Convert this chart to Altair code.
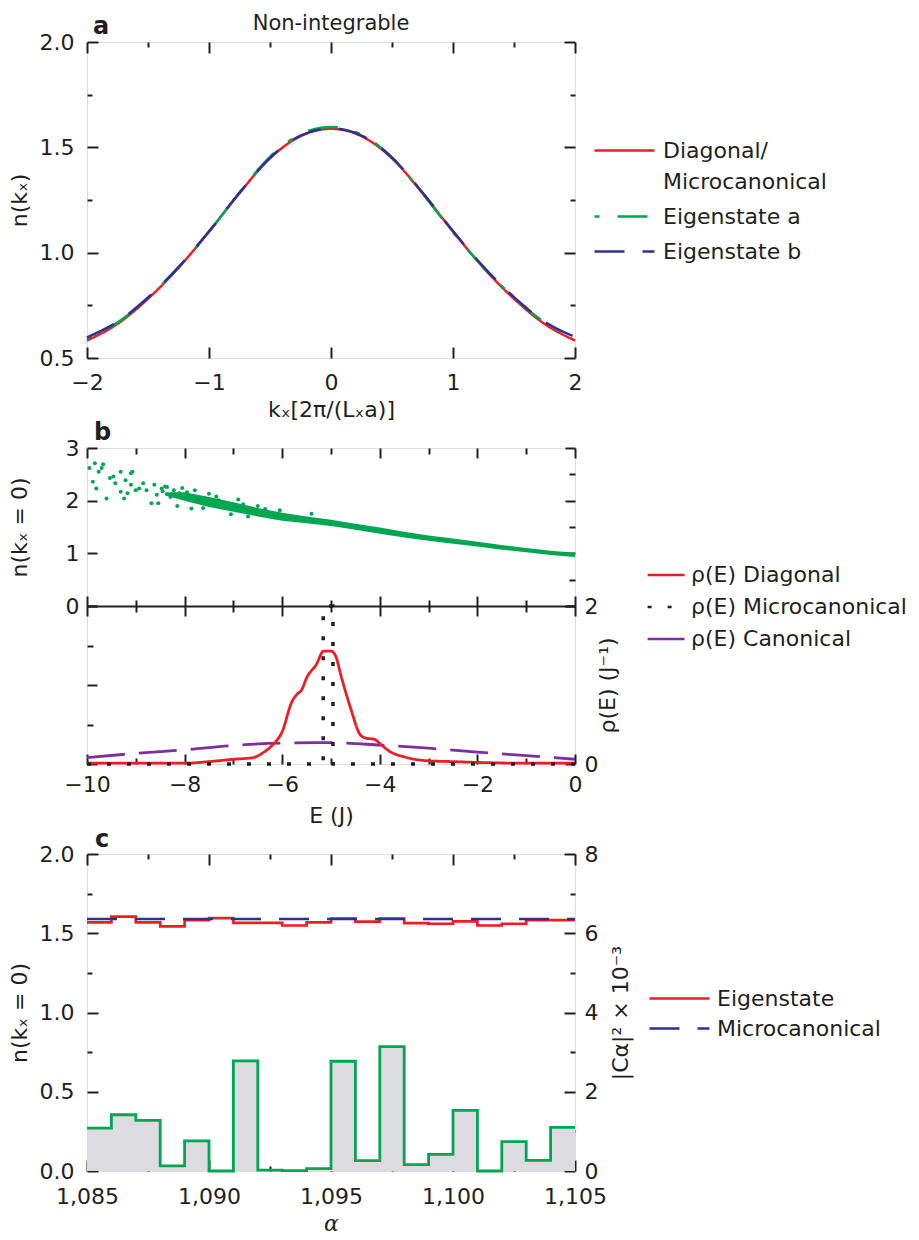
import altair as alt
import pandas as pd

FONT = "DejaVu Sans"
INK = "#231f20"
RED = "#ee1d23"
GREEN = "#00a651"
BLUE = "#2e3192"
PURPLE = "#7d2ea0"
GREY = "#dbdbe0"
FS = 22
FT = 21

W = 488
HA = 316
HB = 316
HALF = 158
HC = 317

# ---------------- panel a data ----------------
k_x = [-2.0, -1.75, -1.5, -1.25, -1.0, -0.75, -0.5, -0.25, 0.0,
       0.25, 0.5, 0.75, 1.0, 1.25, 1.5, 1.75, 2.0]
n_diagonal = [0.583, 0.662, 0.781, 0.928, 1.100, 1.283, 1.448, 1.553, 1.588,
              1.553, 1.448, 1.283, 1.100, 0.928, 0.781, 0.662, 0.583]
n_eigen_a = [0.592, 0.668, 0.785, 0.930, 1.098, 1.286, 1.455, 1.562, 1.597,
             1.560, 1.452, 1.281, 1.097, 0.930, 0.786, 0.670, 0.593]
n_eigen_b = [0.598, 0.672, 0.787, 0.931, 1.101, 1.284, 1.450, 1.556, 1.590,
             1.556, 1.451, 1.285, 1.103, 0.933, 0.789, 0.673, 0.600]
series_a = ["Diagonal/|Microcanonical", "Eigenstate a", "Eigenstate b"]

# ---------------- panel b data ----------------
band_E = [-8.4, -8.0, -7.5, -7.0, -6.5, -6.0, -5.5, -5.0, -4.5, -4.0, -3.5,
          -3.0, -2.5, -2.0, -1.5, -1.0, -0.5, 0.0]
band_hi = [2.16, 2.16, 2.07, 1.97, 1.86, 1.77, 1.70, 1.64, 1.56, 1.49, 1.41,
           1.34, 1.28, 1.22, 1.16, 1.10, 1.05, 1.01]
band_lo = [2.10, 2.00, 1.88, 1.79, 1.70, 1.62, 1.57, 1.52, 1.45, 1.37, 1.30,
           1.24, 1.18, 1.13, 1.07, 1.02, 0.97, 0.93]
scatter_E = [-9.95, -9.84, -9.88, -9.81, -9.76, -9.67, -9.70, -9.60, -9.53, -9.46,
             -9.42, -9.31, -9.31, -9.24, -9.21, -9.17, -9.10, -9.07, -9.10, -9.00,
             -8.93, -8.85, -8.78, -8.68, -8.57, -8.54, -8.47, -8.40, -8.29, -8.22,
             -8.11, -8.01, -7.86, -7.79, -7.72, -7.58, -7.44, -7.30, -7.16, -6.90,
             -6.70, -6.50, -6.20, -8.62, -8.36, -8.15, -7.95, -7.62, -7.35, -7.05,
             -6.80, -6.35, -6.05, -5.70, -5.40, -8.45, -8.25, -8.05, -7.85, -7.50,
             -7.20, -6.95, -6.60]
scatter_n = [2.62, 2.71, 2.36, 2.23, 2.55, 2.69, 2.62, 2.04, 2.43, 2.46,
             2.33, 2.55, 2.17, 2.04, 2.39, 2.14, 2.52, 2.55, 2.30, 2.20,
             2.23, 2.33, 2.20, 1.95, 2.11, 1.95, 2.23, 2.27, 2.07, 2.20,
             2.14, 2.07, 1.85, 2.20, 2.01, 2.04, 1.95, 2.01, 1.88, 2.02,
             1.70, 1.90, 1.76, 2.30, 2.26, 1.90, 2.16, 1.86, 2.08, 1.74,
             1.93, 1.84, 1.82, 1.64, 1.75, 2.18, 2.12, 2.24, 2.02, 2.13,
             1.96, 1.91, 1.80]
rho_diag_E = [-10, -9, -8, -7.5, -7, -6.6, -6.4, -6.2, -6.0, -5.8, -5.7, -5.6,
              -5.5, -5.3, -5.15, -5.0, -4.9, -4.8, -4.6, -4.4, -4.3, -4.1, -4.0,
              -3.8, -3.5, -3.0, -2.5, -2.0, -1.0, 0]
rho_diag = [0.01, 0.01, 0.01, 0.03, 0.06, 0.08, 0.14, 0.24, 0.41, 0.79, 0.88, 0.94,
            1.09, 1.26, 1.43, 1.43, 1.36, 1.13, 0.71, 0.37, 0.33, 0.31, 0.26,
            0.16, 0.09, 0.04, 0.03, 0.02, 0.01, 0.01]
rho_micro_E = [-10, -5.16, -5.16, -4.96, -4.96, 0]
rho_micro = [0, 0, 2, 2, 0, 0]
rho_canon_E = [-10, -9, -8, -7, -6, -5, -4, -3, -2, -1, 0]
rho_canon = [0.08, 0.135, 0.18, 0.235, 0.265, 0.27, 0.24, 0.20, 0.15, 0.105, 0.06]
series_b = ["ρ(E) Diagonal", "ρ(E) Microcanonical", "ρ(E) Canonical"]

# ---------------- panel c data ----------------
alpha_edges = [1085, 1086, 1087, 1088, 1089, 1090, 1091, 1092, 1093, 1094, 1095,
               1096, 1097, 1098, 1099, 1100, 1101, 1102, 1103, 1104, 1105]
c_weight = [1.08, 1.42, 1.28, 0.13, 0.76, 0.0, 2.78, 0.02, 0.01, 0.06,
            2.77, 0.26, 3.14, 0.16, 0.42, 1.53, 0.0, 0.74, 0.27, 1.10]
n_eigenstate = [1.568, 1.605, 1.568, 1.543, 1.583, 1.596, 1.566, 1.566, 1.549, 1.568,
                1.592, 1.573, 1.592, 1.564, 1.560, 1.575, 1.549, 1.560, 1.583, 1.583]
n_microcan = [1.590, 1.590, 1.590, 1.590, 1.590, 1.590, 1.590, 1.590, 1.590, 1.590,
              1.590, 1.590, 1.590, 1.590, 1.590, 1.590, 1.590, 1.590, 1.590, 1.590]
series_c = ["Eigenstate", "Microcanonical"]


def tick_axis(orient, values, test, major=11, minor=5, labels=False, fmt=None,
              title=None, pad=0, offset=0, **kw):
    args = dict(orient=orient, values=values,
                tickSize={"expr": f"({test}) ? {-major} : {-minor}"},
                ticks=True, domain=False, grid=False, labels=labels,
                tickColor=INK, tickWidth=2, offset=offset, title=title)
    if labels:
        args.update(labelExpr=f"({test}) ? datum.label : ''", labelPadding=pad,
                    labelFlush=False, labelOverlap=False, labelFont=FONT,
                    labelFontSize=FS, labelColor=INK)
        if fmt:
            args["format"] = fmt
    if title:
        args.update(titleFont=FONT, titleFontSize=FS, titleFontWeight="normal",
                    titleColor=INK)
    args.update(kw)
    return alt.Axis(**args)


def letter(ch, x, y):
    return alt.Chart(pd.DataFrame({"t": [ch]})).mark_text(
        font=FONT, fontSize=24, fontWeight="bold", align="left",
        baseline="alphabetic", color=INK).encode(
        text="t:N", x=alt.value(x), y=alt.value(y))


def legend(x, y, size, offset, rowpad):
    return alt.Legend(
        title=None, orient="none", legendX=x, legendY=y, direction="vertical",
        symbolType="M-1,0H4", symbolSize=size, symbolStrokeWidth=2.5,
        labelFont=FONT, labelFontSize=FS, labelColor=INK, labelLimit=400,
        labelOffset=offset, rowPadding=rowpad,
        labelExpr="indexof(datum.label, '|') >= 0 ? split(datum.label, '|') : datum.label")


# ================= panel a =================
df_a = pd.DataFrame({
    "k": k_x * 3,
    "n": n_diagonal + n_eigen_a + n_eigen_b,
    "s": [series_a[0]] * len(k_x) + [series_a[1]] * len(k_x) + [series_a[2]] * len(k_x),
})
xa = alt.Scale(domain=[-2, 2], nice=False)
ya = alt.Scale(domain=[0.5, 2.0], nice=False, zero=False)
leg_a = legend(506, 95, 576, 43, 10)
col_a = alt.Color("s:N", scale=alt.Scale(domain=series_a, range=[RED, GREEN, BLUE]), legend=leg_a)
dash_a = alt.StrokeDash("s:N", scale=alt.Scale(domain=series_a, range=[[1, 0], [5, 18, 30, 18], [30, 18]]), legend=leg_a)
xa_vals = [-2, -1.5, -1, -0.5, 0, 0.5, 1, 1.5, 2]
ya_vals = [0.5, 0.75, 1.0, 1.25, 1.5, 1.75, 2.0]
xa_test = "datum.value % 1 === 0"
ya_test = "(datum.value * 2) % 1 === 0"

base_a = alt.Chart(df_a).mark_line(strokeWidth=2.5, interpolate="monotone")
a_red = base_a.transform_filter(alt.datum.s == series_a[0]).encode(
    x=alt.X("k:Q", scale=xa, axis=tick_axis("bottom", xa_vals, xa_test, labels=True, fmt="d", pad=11 + 31,
                                             labelBaseline="alphabetic",
                                             title="kₓ[2π/(Lₓa)]", titleY=58, titleBaseline="alphabetic")),
    y=alt.Y("n:Q", scale=ya, axis=tick_axis("left", ya_vals, ya_test, labels=True, fmt=".1f", pad=11 + 13,
                                             title="n(kₓ)", titleX=-68, titleBaseline="middle")),
    color=col_a, strokeDash=dash_a)
a_green = base_a.transform_filter(alt.datum.s == series_a[1]).encode(
    x=alt.X("k:Q", scale=xa, axis=tick_axis("top", xa_vals, xa_test)),
    y=alt.Y("n:Q", scale=ya, axis=tick_axis("right", ya_vals, ya_test)),
    color=col_a, strokeDash=dash_a)
a_blue = base_a.transform_filter(alt.datum.s == series_a[2]).encode(
    x=alt.X("k:Q", scale=xa, axis=None),
    y=alt.Y("n:Q", scale=ya, axis=None),
    color=col_a, strokeDash=dash_a)
a_title = alt.Chart(pd.DataFrame({"t": ["Non-integrable"]})).mark_text(
    font=FONT, fontSize=FT, align="center", baseline="alphabetic", color=INK).encode(
    text="t:N", x=alt.value(W / 2), y=alt.value(-12))
panel_a = alt.layer(a_red, a_green, a_blue, a_title, letter("a", 6, -8)).resolve_axis(
    x="independent", y="independent").properties(width=W, height=HA)

# ================= panel b =================
df_band = pd.DataFrame({"E": band_E, "lo": band_lo, "hi": band_hi})
df_sc = pd.DataFrame({"E": scatter_E, "n": scatter_n})
df_rho = pd.DataFrame({
    "E": rho_diag_E + rho_micro_E + rho_canon_E,
    "r": rho_diag + rho_micro + rho_canon,
    "s": [series_b[0]] * len(rho_diag_E) + [series_b[1]] * len(rho_micro_E) + [series_b[2]] * len(rho_canon_E),
})
xb = alt.Scale(domain=[-10, 0], nice=False)
yb_top = alt.Scale(domain=[0, 3], range=[HALF, 0], nice=False, zero=False)
yb_bot = alt.Scale(domain=[0, 2], range=[HB, HALF], nice=False, zero=False)
xb_vals = [-10, -9, -8, -7, -6, -5, -4, -3, -2, -1, 0]
xb_test = "datum.value % 2 === 0"
yt_vals = [0, 0.5, 1, 1.5, 2, 2.5, 3]
yr_vals = [0, 0.5, 1, 1.5, 2]
y1_test = "datum.value % 1 === 0"
leg_b = legend(557, 116, 219, 25, 10)
col_b = alt.Color("s:N", scale=alt.Scale(domain=series_b, range=[RED, INK, PURPLE]), legend=leg_b)
dash_b = alt.StrokeDash("s:N", scale=alt.Scale(domain=series_b, range=[[1, 0], [4, 16], [38, 14]]), legend=leg_b)

b_band = alt.Chart(df_band).mark_area(color=GREEN, opacity=1).encode(
    x=alt.X("E:Q", scale=xb, axis=tick_axis("top", xb_vals, xb_test, major=10, minor=6)),
    y=alt.Y("lo:Q", scale=yb_top, axis=tick_axis("left", yt_vals, y1_test, major=10, minor=6, labels=True,
                                                 fmt="d", pad=10 + 8, title="n(kₓ = 0)", titleX=-68,
                                                 titleBaseline="middle")),
    y2="hi:Q")
b_pts = alt.Chart(df_sc).mark_circle(color=GREEN, size=16, opacity=1).encode(
    x=alt.X("E:Q", scale=xb, axis=tick_axis("bottom", xb_vals, xb_test, major=10, minor=6, offset=-(HB - HALF),
                                            domain=True, domainColor=INK, domainWidth=2)),
    y=alt.Y("n:Q", scale=yb_top, axis=tick_axis("right", yt_vals, y1_test, major=10, minor=6)))
base_b = alt.Chart(df_rho).mark_line(strokeWidth=2.8, interpolate="monotone")
b_canon = base_b.transform_filter(alt.datum.s == series_b[2]).encode(
    x=alt.X("E:Q", scale=xb, axis=tick_axis("top", xb_vals, xb_test, major=10, minor=6, offset=-HALF)),
    y=alt.Y("r:Q", scale=yb_bot, axis=tick_axis("left", yr_vals, y1_test, major=10, minor=6)),
    color=col_b, strokeDash=dash_b)
b_diag = alt.Chart(df_rho).mark_line(strokeWidth=2.8, interpolate="monotone").transform_filter(
    alt.datum.s == series_b[0]).encode(
    x=alt.X("E:Q", scale=xb, axis=tick_axis("bottom", xb_vals, xb_test, major=10, minor=6, labels=True,
                                            fmt="d", pad=10 + 27, labelBaseline="alphabetic",
                                            title="E (J)", titleY=58, titleBaseline="alphabetic")),
    y=alt.Y("r:Q", scale=yb_bot, axis=tick_axis("right", yr_vals, y1_test, major=10, minor=6, labels=True,
                                                 fmt="d", pad=10 + 9, title="ρ(E) (J⁻¹)", titleX=32,
                                                 titleAngle=270, titleBaseline="middle")),
    color=col_b, strokeDash=dash_b)
b_micro = alt.Chart(df_rho).mark_line(strokeWidth=3.5, interpolate="linear").transform_filter(
    alt.datum.s == series_b[1]).encode(
    x=alt.X("E:Q", scale=xb, axis=None),
    y=alt.Y("r:Q", scale=yb_bot, axis=None),
    color=col_b, strokeDash=dash_b)
panel_b = alt.layer(b_band, b_pts, b_canon, b_diag, b_micro, letter("b", 7, -8)).resolve_scale(
    y="independent").resolve_axis(x="independent", y="independent").properties(width=W, height=HB)

# ================= panel c =================
df_c = pd.DataFrame({
    "a": alpha_edges,
    "w": c_weight + [c_weight[-1]],
})
df_cl = pd.DataFrame({
    "a": alpha_edges * 2,
    "n": n_eigenstate + [n_eigenstate[-1]] + n_microcan + [n_microcan[-1]],
    "s": [series_c[0]] * len(alpha_edges) + [series_c[1]] * len(alpha_edges),
})
xc = alt.Scale(domain=[1085, 1105], nice=False)
yc_w = alt.Scale(domain=[0, 8], nice=False)
yc_n = alt.Scale(domain=[0, 2], nice=False)
xc_vals = [1085, 1087.5, 1090, 1092.5, 1095, 1097.5, 1100, 1102.5, 1105]
xc_test = "datum.value % 5 === 0"
yw_vals = [0, 1, 2, 3, 4, 5, 6, 7, 8]
yw_test = "datum.value % 2 === 0"
yn_vals = [0, 0.25, 0.5, 0.75, 1.0, 1.25, 1.5, 1.75, 2.0]
yn_test = "(datum.value * 2) % 1 === 0"
leg_c = legend(561, 131, 576, 42, 5)
col_c = alt.Color("s:N", scale=alt.Scale(domain=series_c, range=[RED, BLUE]), legend=leg_c)
dash_c = alt.StrokeDash("s:N", scale=alt.Scale(domain=series_c, range=[[1, 0], [30, 18]]), legend=leg_c)

c_area = alt.Chart(df_c).mark_area(interpolate="step-after", color=GREY, opacity=1).encode(
    x=alt.X("a:Q", scale=xc, axis=tick_axis("bottom", xc_vals, xc_test, labels=True, fmt=",d", pad=11 + 32,
                                            labelBaseline="alphabetic", title="α", titleY=59,
                                            titleBaseline="alphabetic", titleFont="DejaVu Serif",
                                            titleFontStyle="italic")),
    y=alt.Y("w:Q", scale=yc_w, axis=tick_axis("right", yw_vals, yw_test, labels=True, fmt="d", pad=11 + 9,
                                               title="|Cα|² × 10⁻³", titleX=45, titleAngle=270,
                                               titleBaseline="middle")))
c_outline = alt.Chart(df_c).mark_line(interpolate="step-after", color=GREEN, strokeWidth=2.8).encode(
    x=alt.X("a:Q", scale=xc, axis=tick_axis("top", xc_vals, xc_test)),
    y=alt.Y("w:Q", scale=yc_w, axis=None))
base_c = alt.Chart(df_cl).mark_line(interpolate="step-after", strokeWidth=2.7)
c_red = base_c.transform_filter(alt.datum.s == series_c[0]).encode(
    x=alt.X("a:Q", scale=xc, axis=None),
    y=alt.Y("n:Q", scale=yc_n, axis=tick_axis("left", yn_vals, yn_test, labels=True, fmt=".1f", pad=11 + 13,
                                               title="n(kₓ = 0)", titleX=-68, titleBaseline="middle")),
    color=col_c, strokeDash=dash_c)
c_blue = base_c.transform_filter(alt.datum.s == series_c[1]).encode(
    x=alt.X("a:Q", scale=xc, axis=None),
    y=alt.Y("n:Q", scale=yc_n, axis=None),
    color=col_c, strokeDash=dash_c)
panel_c = alt.layer(c_area, c_outline, c_red, c_blue, letter("c", 8, -7)).resolve_scale(
    y="independent").resolve_axis(x="independent", y="independent").properties(width=W, height=HC)

chart = alt.vconcat(panel_a, panel_b, panel_c, spacing=90, bounds="flush").resolve_scale(
    color="independent", strokeDash="independent").properties(
    padding={"left": 7, "top": 12, "right": 0, "bottom": 0}
).configure_view(stroke=INK, strokeWidth=2).configure(
    background="white", style={"guide-label": {"lineHeight": 31}})

chart.save("out.html", embed_options={"renderer": "svg", "actions": False})
